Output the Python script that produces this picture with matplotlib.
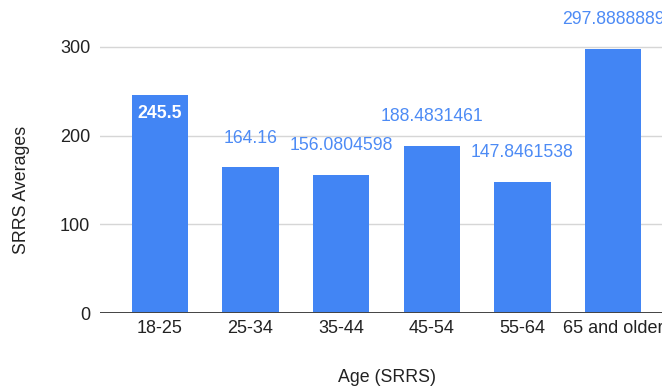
import matplotlib
matplotlib.use('Agg')
import matplotlib.pyplot as plt

plt.rcParams['font.family'] = ['Liberation Sans', 'DejaVu Sans']

# --- data ---
age_groups = ['18-25', '25-34', '35-44', '45-54', '55-64', '65 and older']
srrs_avg = [245.5, 164.16, 156.0804598, 188.4831461, 147.8461538, 297.8888889]
value_labels = ['245.5', '164.16', '156.0804598', '188.4831461', '147.8461538', '297.8888889']
y_ticks = [0, 100, 200, 300]

BAR_BLUE = '#4285f4'
LABEL_BLUE = '#4d8bf5'
TEXT = '#222222'

fig = plt.figure(figsize=(6.62, 3.89), dpi=100)
ax = fig.add_axes([100 / 662, 76 / 389, 562 / 662, 313 / 389])

x = list(range(len(age_groups)))
bars = ax.bar(x, srrs_avg, width=0.62, color=BAR_BLUE, zorder=3)

ax.set_xlim(-0.66, 5.54)
ax.set_ylim(0, 353)
ax.set_yticks(y_ticks)
ax.set_xticks(x)
ax.set_xticklabels(age_groups)

ax.grid(axis='y', color='#d6d6d6', linewidth=1, zorder=0)
ax.axhline(0, color='#444444', linewidth=1.4, zorder=4)
for s in ax.spines.values():
    s.set_visible(False)
ax.tick_params(axis='both', length=0, labelsize=13, colors=TEXT)
ax.tick_params(axis='x', pad=5)
ax.tick_params(axis='y', pad=7)

# value labels: first one sits inside the bar, others above
for i, (b, txt) in enumerate(zip(bars, value_labels)):
    top = b.get_height()
    cx = b.get_x() + b.get_width() / 2
    if i == 0:
        ax.annotate(txt, xy=(cx, top), xytext=(0, -13), textcoords='offset points',
                    ha='center', va='center', fontsize=12.7, fontweight='bold',
                    color='white', zorder=5)
    else:
        ax.annotate(txt, xy=(cx, top), xytext=(0, 21), textcoords='offset points',
                    ha='center', va='center', fontsize=12.7, color=LABEL_BLUE,
                    annotation_clip=False, zorder=5)

fig.text(22 / 662, 1 - 190 / 389, 'SRRS Averages', rotation=90, ha='center',
         va='center', fontsize=12.8, color=TEXT)
fig.text(387 / 662, 1 - 378 / 389, 'Age (SRRS)', ha='center', va='center',
         fontsize=12.8, color=TEXT)

fig.savefig('out.png', dpi=100)
